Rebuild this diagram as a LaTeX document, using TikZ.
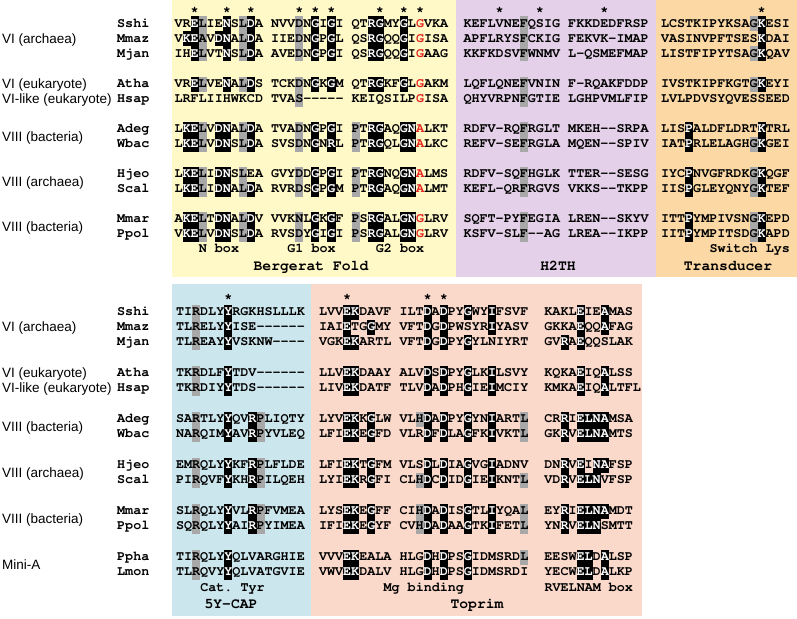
\documentclass[tikz,border=0pt]{standalone}
\usepackage{fontspec}
\setmainfont{Liberation Sans}

\definecolor{pyellow}{RGB}{255,249,200}
\definecolor{ppurple}{RGB}{228,208,232}
\definecolor{porange}{RGB}{251,216,164}
\definecolor{pblue}{RGB}{204,230,238}
\definecolor{psalmon}{RGB}{250,216,202}
\definecolor{hgray}{RGB}{168,168,168}
\definecolor{hred}{RGB}{226,40,30}

\newcommand\cour{\fontencoding{OT1}\fontfamily{pcr}\fontseries{b}\fontshape{n}}
\tikzset{
  seqch/.style={inner sep=0pt, anchor=base, font=\cour\fontsize{13.4}{15}\selectfont},
  seqlbl/.style={inner sep=0pt, anchor=base west, font=\cour\fontsize{13.4}{15}\selectfont\frenchspacing},
  biglbl/.style={inner sep=0pt, anchor=base, font=\cour\fontsize{14.7}{16}\selectfont},
  grplbl/.style={inner sep=0pt, anchor=base west, font=\fontsize{13.5}{15}\selectfont},
}

\newcount\sqcol
\def\sqw{8.05}
\makeatletter
\def\sqblk#1#2#3#4{\def\sq@x{#1}\def\sq@y{#2}\sqcol=0 \sq@loop#3\relax#4\relax}
\def\sq@loop#1#2\relax#3#4\relax{%
  \sq@cell{#1}{#3}%
  \advance\sqcol by 1\relax
  \ifx\relax#2\relax\else\sq@loop#2\relax#4\relax\fi}
\def\sq@cell#1#2{%
  \pgfmathsetmacro\sq@cx{\sq@x+\the\sqcol*\sqw}%
  \if#2k\fill[black] ({\sq@cx},{\sq@y-7.5}) rectangle ++(\sqw,15);\node[seqch,white] at ({\sq@cx+\sqw/2},{\sq@y+3.8}) {#1};%
  \else\if#2g\fill[hgray] ({\sq@cx},{\sq@y-7.5}) rectangle ++(\sqw,15);\node[seqch] at ({\sq@cx+\sqw/2},{\sq@y+3.8}) {#1};%
  \else\if#2r\node[seqch,hred] at ({\sq@cx+\sqw/2},{\sq@y+3.8}) {#1};%
  \else\node[seqch] at ({\sq@cx+\sqw/2},{\sq@y+3.8}) {#1};%
  \fi\fi\fi}
\makeatother

% top rows: y, b1,m1, b2,m2, b3,m3
\newcommand\trow[7]{\sqblk{174.5}{#1}{#2}{#3}\sqblk{271.1}{#1}{#4}{#5}\sqblk{351.6}{#1}{#6}{#7}}
% top rows right: y, p1,m1, p2,m2, o,m3
\newcommand\trowb[7]{\sqblk{463.5}{#1}{#2}{#3}\sqblk{568.2}{#1}{#4}{#5}\sqblk{661}{#1}{#6}{#7}}
% bottom rows: y, blue,m, s1,m, s2,m, s3,m
\newcommand\brow[9]{\sqblk{176}{#1}{#2}{#3}\sqblk{319}{#1}{#4}{#5}\sqblk{399.5}{#1}{#6}{#7}\sqblk{544.4}{#1}{#8}{#9}}
\newcommand\nm[2]{\node[seqlbl] at ({117},{#1+3.8}) {#2};}
\newcommand\grp[2]{\node[grplbl] at ({2},{#1+4.8}) {#2};}
\newcommand\mystar[2]{\node[seqch] at ({#1},{#2+5}) {*};}

\begin{document}
\begin{tikzpicture}[x=1pt,y=-1pt]
\useasboundingbox (0,0) rectangle (797,618);
% panels
\fill[pyellow] (172,0) rectangle (456,277);
\fill[ppurple] (456,0) rectangle (656,277);
\fill[porange] (656,0) rectangle (797,277);
\fill[pblue] (172,284) rectangle (311,616);
\fill[psalmon] (311,284) rectangle (642,616);

% ---------------- top panel ----------------
\foreach \c in {2,6,9,15,17,19,25,28,30} {\mystar{174.5+(\c+0.5)*8.05}{8}}
\foreach \c in {4,9,17} {\mystar{463.5+(\c+0.5)*8.05}{8}}
\mystar{661+12.5*8.05}{8}

\grp{39}{VI (archaea)}
\grp{84}{VI (eukaryote)}
\grp{99}{VI-like (eukaryote)}
\grp{136.5}{VIII (bacteria)}
\grp{181.5}{VIII (archaea)}
\grp{226.5}{VIII (bacteria)}

\nm{24}{Sshi}\nm{39}{Mmaz}\nm{54}{Mjan}\nm{84}{Atha}\nm{99}{Hsap}
\nm{129}{Adeg}\nm{144}{Wbac}\nm{174}{Hjeo}\nm{189}{Scal}\nm{219}{Mmar}\nm{234}{Ppol}

\trow{24}{VRELIENSLDA}{..kg..k.gk.}{NVVDNGIGI}{...g.k.k.}{QTRGMYGLGVKA}{..kk..k.r...}
\trow{39}{VKEAVDNALDA}{.kkg.kk.gk.}{IIEDNGPGL}{...g.k.k.}{QSRGQQGIGISA}{..kk..k.r...}
\trow{54}{IHELVTNSLDA}{..kg..k.gk.}{AVEDNGPGI}{...g.k.k.}{QSRGQQGIGAAG}{..kk..k.r...}
\trow{84}{VRELVENALDS}{..kg..k.gk.}{TCKDNGKGM}{...g.k.k.}{QTRGKFGLGAKM}{..kk..k.r...}
\trow{99}{LRFLIIHWKCD}{...........}{TVAS-----}{...g.....}{KEIQSILPGISA}{........r...}
\trow{129}{LKELVDNALDA}{.kkg.kk.gk.}{TVADNGPGI}{...g.k.k.}{PTRGAQGNALKT}{g.kk..kkr...}
\trow{144}{LKELVDNSLDA}{.kkg.kk.gk.}{SVSDNGNRL}{...g.k.k.}{PTRGQLGNALKC}{g.kk..kkr...}
\trow{174}{LKELIDNSLEA}{.kkg.kk.g..}{GVYDDGPGI}{...g.k.k.}{PTRGNQGNALMS}{g.kk..kkr...}
\trow{189}{LKELIDNALDA}{.kkg.kk.gk.}{RVRDSGPGM}{...g.k.k.}{PTRGAQGNALMT}{g.kk..kkr...}
\trow{219}{AKELTDNALDV}{.kkg.kk.gk.}{VVKNLGKGF}{...g.k.k.}{PSRGALGNGLRV}{g.kk..kkr...}
\trow{234}{VKELVDNSLDA}{.kkg.kk.gk.}{RVSDYGIGI}{...g.k.k.}{PSRGALGNGLRV}{g.kk..kkr...}

\trowb{24}{KEFLVNEFQSIG}{.......g....}{FKKDEDFRSP}{..........}{LCSTKIPYKSAGKESI}{...........gk...}
\trowb{39}{APFLRYSFCKIG}{.......g....}{FEKVK-IMAP}{..........}{VASINVPFTSESKDAI}{............k...}
\trowb{54}{KKFKDSVFWNMV}{.......g....}{L-QSMEFMAP}{..........}{LISTFIPYTSAGKQAV}{...........gk...}
\trowb{84}{LQFLQNEFVNIN}{.......g....}{F-RQAKFDDP}{..........}{IVSTKIPFKGTGKEYI}{...........gk...}
\trowb{99}{QHYVRPNFGTIE}{.......g....}{LGHPVMLFIP}{..........}{LVLPDVSYQVESSEED}{................}
\trowb{129}{RDFV-RQFRGLT}{.......g....}{MKEH--SRPA}{..........}{LISPALDFLDRTKTRL}{...k........k...}
\trowb{144}{REFV-SEFRGLA}{.......g....}{MQEN--SPIV}{..........}{IATPRLELAGHGKGEI}{...k.......gk...}
\trowb{174}{RDFV-SQFHGLK}{.......g....}{TTER--SESG}{..........}{IYCPNVGFRDKGKQGF}{...k.......gk...}
\trowb{189}{KEFL-QRFRGVS}{.......g....}{VKKS--TKPP}{..........}{IISPGLEYQNYGKTEF}{...k.......gk...}
\trowb{219}{SQFT-PYFEGIA}{.......g....}{LREN--SKYV}{..........}{ITTPYMPIVSNGKEPD}{...k.......gk...}
\trowb{234}{KSFV-SLF--AG}{.......g....}{LREA--IKPP}{..........}{IITPYMPITSDGKAPD}{...k.......gk...}

\node[seqlbl] (nbox) at (198.65,252.8) {N box};
\node[seqlbl] (g1box) at (287.2,252.8) {G1 box};
\node[seqlbl] (g2box) at (375.75,252.8) {G2 box};
\node[seqlbl] (swlys) at (709.3,252.8) {Switch Lys};
\node[biglbl] (berg) at (311,270.2) {Bergerat Fold};
\node[biglbl] (h2th) at (558,270.2) {H2TH};
\node[biglbl] (trans) at (728,270.2) {Transducer};

% ---------------- bottom panel ----------------
\mystar{176+6.5*8.05}{295}
\foreach \c in {3,13,15} {\mystar{319+(\c+0.5)*8.05}{295}}

\grp{327}{VI (archaea)}
\grp{373}{VI (eukaryote)}
\grp{388}{VI-like (eukaryote)}
\grp{426.5}{VIII (bacteria)}
\grp{472.5}{VIII (archaea)}
\grp{518.5}{VIII (bacteria)}
\grp{564.5}{Mini-A}

\nm{312}{Sshi}\nm{327}{Mmaz}\nm{342}{Mjan}\nm{373}{Atha}\nm{388}{Hsap}
\nm{419}{Adeg}\nm{434}{Wbac}\nm{465}{Hjeo}\nm{480}{Scal}\nm{511}{Mmar}\nm{526}{Ppol}
\nm{557}{Ppha}\nm{572}{Lmon}

\brow{312}{TIRDLYYRGKHSLLLK}{..g...k.........}{LVVEKDAVF}{...kk....}{ILTDADPYGWYIFSVF}{...k.k..k..k....}{KAKLEIEAMAS}{....k..k...}
\brow{327}{TLRELYYISE------}{..g...k.........}{IAIETGGMY}{...k..k..}{VFTDGDPWSYRIYASV}{...k.k.....k....}{GKKAEQQAFAG}{....k..k...}
\brow{342}{TLREAYYVSKNW----}{..g...k.........}{VGKEKARTL}{...kk....}{VFTDGDPYGYLNIYRT}{...k.k..k.......}{GVRAEQQSLAK}{..k.k......}
\brow{373}{TKRDLFYTDV------}{..g...k.........}{LLVEKDAAY}{...kk....}{ALVDSDPYGLKILSVY}{...k.k..k..k....}{KQKAEIQALSS}{....k..k...}
\brow{388}{TKRDIYYTDS------}{..g...k.........}{LIVEKDATF}{...kk....}{TLVDADPHGIEIMCIY}{...k.k..k..k....}{KMKAEIQALTFL}{....k..k....}
\brow{419}{SARTLYYQVRPLIQTY}{..g...k..kg.....}{LYVEKKGLW}{...kk.k..}{VLHDADPYGYNIARTL}{..gk.k..k..k...g}{CRRIELNAMSA}{..k.kkkk...}
\brow{434}{NARQIMYAVRPYVLEQ}{..g...k..kg.....}{LFIEKEGFD}{...kk.k..}{VLRDFDLAGFKIVKTL}{...k.k..k..k...g}{GKRVELNAMTS}{..k.kkkk...}
\brow{465}{EMRQLYYKFRPLFLDE}{..g...k..kg.....}{LFIEKTGFM}{...kk.k..}{VLSDLDIAGVGIADNV}{...k.k..k..k....}{DNRVEINAFSP}{..k.k.kk...}
\brow{480}{PIRQVFYKHRPILQEH}{..g...k..kg.....}{LYIEKRGFI}{...kk.k..}{CLHDCDIDGIEIKNTL}{..gk.k..k..k...g}{VDRVELNVFSP}{..k.kkk....}
\brow{511}{SLRQLYYVLRPFVMEA}{..g...k..kg.....}{LYSEKEGFF}{...kk.k..}{CIHDADISGTLIYQAL}{..gk.k..k..k...g}{EYRIELNAMDT}{..k.kkkk...}
\brow{526}{SQRQLYYAIRPYIMEA}{..g...k..kg.....}{IFIEKEGYF}{...kk.k..}{CVHDADAAGTKIFETL}{..gk.k..k..k...g}{YNRVELNSMTT}{..k.kkk....}
\brow{557}{TIRQLYYQLVARGHIE}{..g...k.........}{VVVEKEALA}{...kk....}{HLGDHDPSGIDMSRDL}{...k.k..k......g}{EESWELDALSP}{....kk.k...}
\brow{572}{TLRQVYYQLVATGVIE}{..g...k.........}{VWVEKDALV}{...kk....}{HLGDHDPSGIDMSRDI}{...k.k..k.......}{YECWELDALKP}{....kk.k...}

\node[seqlbl] (cattyr) at (200.15,591.8) {Cat. Tyr};
\node[seqlbl] (mgbind) at (383.4,591.8) {Mg binding};
\node[seqlbl] (rvel) at (544.4,591.8) {RVELNAM box};
\node[biglbl] (ycap) at (231,608.2) {5Y-CAP};
\node[biglbl] (toprim) at (477,608.2) {Toprim};
\end{tikzpicture}
\end{document}
